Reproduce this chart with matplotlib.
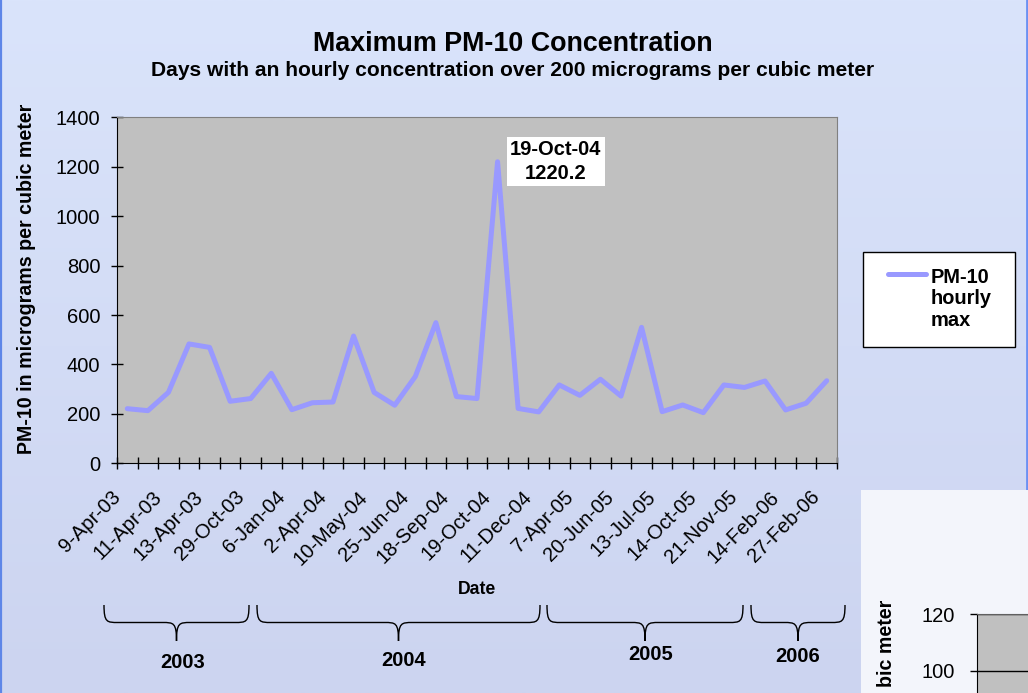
import numpy as np
import matplotlib
matplotlib.use('Agg')
import matplotlib.pyplot as plt
from matplotlib.path import Path
from matplotlib.patches import PathPatch, Rectangle
from matplotlib.transforms import Affine2D
from matplotlib.lines import Line2D

plt.rcParams['font.family'] = ['Liberation Sans', 'DejaVu Sans']

# ---------------- data ----------------
values = [221, 213, 287, 483, 469, 251, 262, 364, 217, 245, 248, 515,
          287, 235, 351, 569, 270, 262, 1220.2, 222, 208, 317, 275, 340,
          272, 550, 209, 236, 205, 317, 307, 333, 216, 243, 334]
date_labels = ['9-Apr-03', '11-Apr-03', '13-Apr-03', '29-Oct-03', '6-Jan-04',
               '2-Apr-04', '10-May-04', '25-Jun-04', '18-Sep-04', '19-Oct-04',
               '11-Dec-04', '7-Apr-05', '20-Jun-05', '13-Jul-05', '14-Oct-05',
               '21-Nov-05', '14-Feb-06', '27-Feb-06']
y_ticks = [0, 200, 400, 600, 800, 1000, 1200, 1400]
year_labels = ['2003', '2004', '2005', '2006']
peak_label = '19-Oct-04'
series_name = 'PM-10\nhourly\nmax'
title = 'Maximum PM-10 Concentration'
subtitle = 'Days with an hourly concentration over 200 micrograms per cubic meter'
y_label = 'PM-10 in micrograms per cubic meter'
x_label = 'Date'
second_ticks = [100, 120]
second_label_visible = 'bic meter'

W, H = 1028, 693
fig = plt.figure(figsize=(W / 100, H / 100), dpi=100)
# image-pixel transform (origin top-left, y down)
px = Affine2D().scale(1 / W, -1 / H).translate(0, 1) + fig.transFigure

# ---------------- background ----------------
bg = fig.add_axes([0, 0, 1, 1], zorder=-10)
grad = np.linspace(0, 1, 256)[:, None, None]
top_c = np.array([218, 228, 251]) / 255
bot_c = np.array([204, 212, 240]) / 255
img = top_c + (bot_c - top_c) * grad
bg.imshow(img, aspect='auto', extent=[0, 1, 0, 1])
bg.set_xlim(0, 1)
bg.set_ylim(0, 1)
bg.axis('off')

fig.add_artist(Line2D([0.8, 0.8], [0, H], transform=px, color='#5E86E8', lw=1.6))
fig.add_artist(Line2D([1026.5, 1026.5], [0, 490], transform=px, color='#6B90F2', lw=2))

# ---------------- main chart ----------------
ax = fig.add_axes([117 / W, 1 - 463.3 / H, 720 / W, 346 / H])
ax.set_facecolor('#C0C0C0')
x = np.arange(len(values))
ax.plot(x, values, color='#9999FF', lw=3.6, solid_joinstyle='round',
        solid_capstyle='round')
ax.set_xlim(-0.5, len(values) - 0.5)
ax.set_ylim(y_ticks[0], y_ticks[-1])
ax.set_yticks(y_ticks)
ax.set_xticks(x[::2] - 0.15)
ax.set_xticklabels(date_labels, rotation=45, ha='right', va='bottom',
                   rotation_mode='anchor', fontsize=14.5)
ax.set_xticks(np.arange(-0.5, len(values), 1), minor=True)
ax.tick_params(axis='x', which='major', length=0, pad=27)
ax.tick_params(axis='x', which='minor', direction='inout', length=9,
               width=1, color='black')
ax.tick_params(axis='y', direction='inout', length=9, width=1,
               labelsize=14.5, pad=7.5)
for s in ['top', 'right']:
    ax.spines[s].set_color('#808080')
for s in ['left', 'bottom']:
    ax.spines[s].set_color('black')

ax.set_ylabel(y_label, fontsize=14.1, fontweight='bold')
ax.yaxis.label.set_rotation_mode('default')
ax.yaxis.label.set_va('center')
ax.yaxis.set_label_coords((27 - 117) / 720, (463.3 - 278.5) / 346)
ax.set_xlabel(x_label, fontsize=12.7, fontweight='bold')
ax.xaxis.label.set_va('center')
ax.xaxis.set_label_coords(0.5, (463.3 - 590) / 346)

ipk = int(np.argmax(values))
ax.annotate(f'{peak_label}\n{values[ipk]:.1f}', xy=(x[ipk], values[ipk]),
            xytext=(42, 0), textcoords='offset points', ha='center',
            va='center', fontsize=14.5, fontweight='bold', linespacing=1.3,
            bbox=dict(boxstyle='square,pad=0.15', fc='white', ec='none'))

# ---------------- titles ----------------
fig.text(513 / W, 1 - 50.7 / H, title, ha='center', va='baseline',
         fontsize=19.4, fontweight='bold')
fig.text(513 / W, 1 - 75.5 / H, subtitle, ha='center', va='baseline',
         fontsize=15.1, fontweight='bold')

# ---------------- legend (drawn box) ----------------
fig.add_artist(Rectangle((863, 252), 152, 95, transform=px, fc='white',
                         ec='black', lw=1))
fig.add_artist(Line2D([888, 926], [274, 274], transform=px, color='#9999FF',
                      lw=3.6, solid_capstyle='round'))
fig.text(931, 268, series_name, transform=px, ha='left', va='top',
         fontsize=14.4, fontweight='bold', linespacing=1.16,
         multialignment='left')

# ---------------- year braces ----------------
brace_spans = [(104, 249), (257, 540), (547, 743), (751, 845)]
label_pos = [(183, 663), (404, 660), (651, 655), (798, 656)]
ytop, yline, ytip = 605, 622.5, 641
for (x0, x1), lab, (lx, ly) in zip(brace_spans, year_labels, label_pos):
    xc = (x0 + x1) / 2
    r = 14
    verts = [(x0, ytop), (x0, yline), (x0 + 3, yline), (x0 + r, yline),
             (xc - r, yline),
             (xc - 3, yline), (xc, yline), (xc, ytip),
             (xc, ytip),
             (xc, yline), (xc + 3, yline), (xc + r, yline),
             (x1 - r, yline),
             (x1 - 3, yline), (x1, yline), (x1, ytop)]
    codes = [Path.MOVETO, Path.CURVE4, Path.CURVE4, Path.CURVE4,
             Path.LINETO,
             Path.CURVE4, Path.CURVE4, Path.CURVE4,
             Path.MOVETO,
             Path.CURVE4, Path.CURVE4, Path.CURVE4,
             Path.LINETO,
             Path.CURVE4, Path.CURVE4, Path.CURVE4]
    fig.add_artist(PathPatch(Path(verts, codes), transform=px, fc='none',
                             ec='black', lw=1))
    fig.text(lx, ly, lab, transform=px, ha='center', va='center',
             fontsize=14.5, fontweight='bold')

# ---------------- overlapping second chart fragment ----------------
fig.add_artist(Rectangle((861, 490), 170, 210, transform=px, fc='#F3F5FB',
                         ec='none', zorder=5))
ax2_top, ax2_bot = 614, 720
ax2 = fig.add_axes([977 / W, 1 - ax2_bot / H, 120 / W, (ax2_bot - ax2_top) / H],
                   zorder=6)
ax2.set_facecolor('#C0C0C0')
per_px = (second_ticks[1] - second_ticks[0]) / 57.0
ax2.set_ylim(second_ticks[1] - (ax2_bot - ax2_top) * per_px, second_ticks[1])
ax2.set_xlim(0, 1)
ax2.set_yticks(second_ticks)
ax2.set_xticks([])
ax2.grid(axis='y', color='black', lw=1)
ax2.tick_params(axis='y', direction='out', length=5, width=1, labelsize=14.5,
                pad=11)
ax2.spines['top'].set_color('#606060')
fig.text(887, 600, second_label_visible, transform=px, rotation=90,
         rotation_mode='anchor', ha='right', va='center', fontsize=14.1,
         fontweight='bold', zorder=7)

fig.savefig('out.png', dpi=100)
